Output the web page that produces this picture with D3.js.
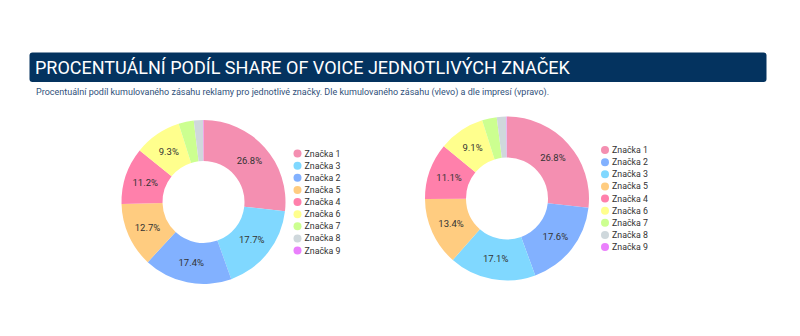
<!DOCTYPE html>
<html><head><meta charset="utf-8">
<script src="https://cdn.jsdelivr.net/npm/d3@7"></script>
<style>body{margin:0;background:#fff;}svg{display:block;font-family:Roboto,sans-serif;}</style>
</head><body><svg id="c" width="800" height="336"></svg>
<script>
const title = "PROCENTUÁLNÍ PODÍL SHARE OF VOICE JEDNOTLIVÝCH ZNAČEK";
const subtitle = "Procentuální podíl kumulovaného zásahu reklamy pro jednotlivé značky. Dle kumulovaného zásahu (vlevo) a dle impresí (vpravo).";
const brands = ["Značka 1","Značka 2","Značka 3","Značka 4","Značka 5","Značka 6","Značka 7","Značka 8","Značka 9"];
const brandColors = ["#F48FB1","#82B1FF","#80D8FF","#FF80AB","#FFCC80","#FFFF8D","#CCFF90","#CFD8DC","#EA80FC"];
const leftCats = ["Značka 1","Značka 3","Značka 2","Značka 5","Značka 4","Značka 6","Značka 7","Značka 8","Značka 9"];
const leftVals = [26.8,17.7,17.4,12.7,11.2,9.3,3.0,1.8,0.1];
const rightCats = ["Značka 1","Značka 2","Značka 3","Značka 5","Značka 4","Značka 6","Značka 7","Značka 8","Značka 9"];
const rightVals = [26.8,17.6,17.1,13.4,11.1,9.1,2.9,1.9,0.1];

const svg = d3.select("#c");
const color = d3.scaleOrdinal().domain(brands).range(brandColors);

svg.append("rect").attr("x",29.5).attr("y",52.5).attr("width",737).attr("height",29.5).attr("rx",3).attr("fill","#04335f");
svg.append("text").attr("x",35).attr("y",74).attr("fill","#fff").attr("font-size",18).text(title);
svg.append("text").attr("x",36).attr("y",95).attr("fill","#30507a").attr("font-size",9).text(subtitle);

function donut(cats, vals, cx, cy, lx){
  const data = cats.map((c,i)=>({cat:c,val:vals[i]}));
  const pie = d3.pie().value(d=>d.val).sort(null);
  const r = 82, ri = 41;
  const arc = d3.arc().innerRadius(ri).outerRadius(r);
  const g = svg.append("g").attr("transform",`translate(${cx},${cy})`);
  const arcs = pie(data);
  g.selectAll("path").data(arcs).join("path").attr("d",arc).attr("fill",d=>color(d.data.cat));
  g.selectAll("text").data(arcs.filter(d=>d.data.val>=5)).join("text")
    .attr("transform",d=>`translate(${arc.centroid(d)})`)
    .attr("text-anchor","middle").attr("dy","0.35em")
    .attr("font-size",9.5).attr("fill","#333")
    .text(d=>d.data.val.toFixed(1)+"%");
  const y = d3.scalePoint().domain(cats).range([cy-48.5, cy+48.5]);
  const lg = svg.append("g");
  cats.forEach(c=>{
    lg.append("circle").attr("cx",lx).attr("cy",y(c)).attr("r",4).attr("fill",color(c));
    lg.append("text").attr("x",lx+7).attr("y",y(c)).attr("dy","0.35em").attr("font-size",8.8).attr("fill","#333").text(c);
  });
}
donut(leftCats,leftVals,203.5,202,297.5);
donut(rightCats,rightVals,507,198.5,605);
</script></body></html>
